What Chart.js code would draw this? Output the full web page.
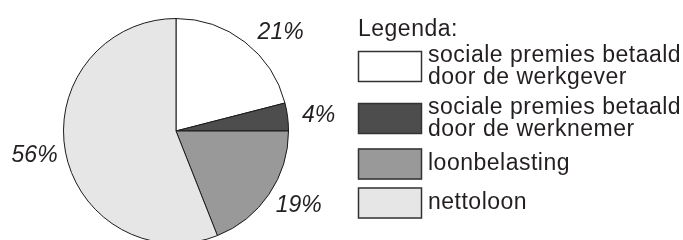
<!DOCTYPE html>
<html>
<head>
<meta charset="utf-8">
<script src="https://cdn.jsdelivr.net/npm/chart.js@4/dist/chart.umd.min.js"></script>
<style>
    html, body { margin: 0; padding: 0; background: #ffffff; overflow: hidden; }
    #wrap { position: relative; width: 683px; height: 250px; }
</style>
</head>
<body>
<div id="wrap"><canvas id="pieChart"></canvas></div>
<script>
// Chart data
const categories = [
    ['sociale premies betaald', 'door de werkgever'],
    ['sociale premies betaald', 'door de werknemer'],
    ['loonbelasting'],
    ['nettoloon']
];
const shares = [21, 4, 19, 56];
const shareLabels = ['21%', '4%', '19%', '56%'];
const legendTitle = 'Legenda:';

// Styling
const sliceColors = ['#ffffff', '#4d4d4d', '#999999', '#e6e6e6'];
const labelNudgeDeg = [9, 1, -3, 1]; // small hand placement tweaks for the % labels
const textColor = '#231f20';
const fontFamily = '"Liberation Sans", Arial, sans-serif';

// Percent labels just outside each slice
const percentLabels = {
    id: 'percentLabels',
    afterDatasetsDraw(chart) {
        const ctx = chart.ctx;
        const meta = chart.getDatasetMeta(0);
        ctx.save();
        ctx.font = 'italic 23px ' + fontFamily;
        ctx.fillStyle = textColor;
        ctx.textAlign = 'center';
        ctx.textBaseline = 'middle';
        meta.data.forEach((arc, i) => {
            const p = arc.getProps(['x', 'y', 'startAngle', 'endAngle', 'outerRadius'], true);
            const mid = (p.startAngle + p.endAngle) / 2 + labelNudgeDeg[i] * Math.PI / 180;
            const dist = p.outerRadius + 31;
            ctx.fillText(shareLabels[i], p.x + Math.cos(mid) * dist, p.y + Math.sin(mid) * dist);
        });
        ctx.restore();
    }
};

// Legend drawn on the right, with two-line entries
const sideLegend = {
    id: 'sideLegend',
    afterDraw(chart) {
        const ctx = chart.ctx;
        const boxX = 358, boxW = 64, boxH = 31;
        const textX = 428, lineH = 22, gap = 8;
        ctx.save();
        ctx.font = '23px ' + fontFamily;
        ctx.letterSpacing = '0.5px';
        ctx.fillStyle = textColor;
        ctx.textBaseline = 'middle';
        ctx.fillText(legendTitle, boxX, 30);

        let top = 44.5;
        categories.forEach((lines, i) => {
            const blockH = Math.max(boxH, lines.length * lineH);
            const boxTop = top + (blockH - boxH) / 2;
            ctx.fillStyle = sliceColors[i];
            ctx.fillRect(boxX, boxTop, boxW, boxH);
            ctx.strokeStyle = '#333333';
            ctx.lineWidth = 1.5;
            ctx.strokeRect(boxX + 0.5, boxTop + 0.5, boxW - 1, boxH - 1);

            ctx.fillStyle = textColor;
            const textTop = top + (blockH - lines.length * lineH) / 2;
            lines.forEach((line, j) => {
                ctx.fillText(line, textX, textTop + lineH * j + lineH / 2);
            });
            top += blockH + gap;
        });
        ctx.restore();
    }
};

const ctx = document.getElementById('pieChart').getContext('2d');
const chart = new Chart(ctx, {
    type: 'pie',
    data: {
        labels: categories,
        datasets: [{
            data: shares,
            backgroundColor: sliceColors,
            borderColor: '#1a1a1a',
            borderWidth: 1
        }]
    },
    options: {
        responsive: true,
        maintainAspectRatio: false,
        animation: false,
        layout: {
            padding: { left: 63, top: 18, right: 394, bottom: 6 }
        },
        plugins: {
            legend: { display: false },
            tooltip: { enabled: false }
        }
    },
    plugins: [percentLabels, sideLegend]
});
</script>
</body>
</html>
